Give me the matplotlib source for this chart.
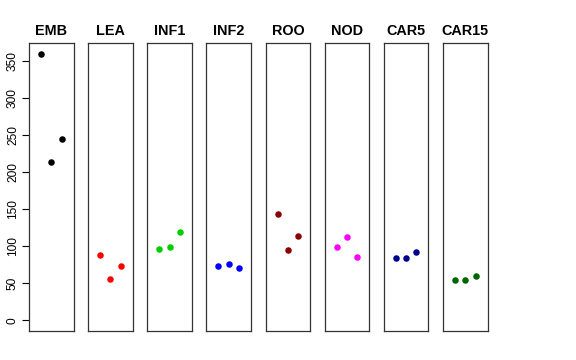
import matplotlib
matplotlib.use("Agg")
import matplotlib.pyplot as plt

plt.rcParams['font.family'] = ['Liberation Sans', 'DejaVu Sans']

# tissue panels and their three replicate values
tissues = ["EMB", "LEA", "INF1", "INF2", "ROO", "NOD", "CAR5", "CAR15"]
colors = ["black", "red", "#00CD00", "blue", "#8B0000", "magenta", "#00008B", "#006400"]
reps = [1, 2, 3]
vals_EMB = [360, 213.5, 245]
vals_LEA = [88.3, 56, 73.4]
vals_INF1 = [96.4, 98.6, 119.8]
vals_INF2 = [73, 76.1, 70.7]
vals_ROO = [144.1, 94.6, 114.4]
vals_NOD = [98.6, 112.2, 85.1]
vals_CAR5 = [84.2, 84.2, 92.3]
vals_CAR15 = [54.1, 55, 59.9]
values = [vals_EMB, vals_LEA, vals_INF1, vals_INF2, vals_ROO, vals_NOD, vals_CAR5, vals_CAR15]
yticks = [0, 50, 100, 150, 200, 250, 300, 350]

fig = plt.figure(figsize=(5.76, 3.6), dpi=100)

# panel geometry in pixels (left edge, width), matching the reference layout
W, H = 576.0, 360.0
left0, pitch, pw = 29.0, 59.15, 44.5
top, bottom = 43.0, 331.0

ymin, ymax = 0, 360
yr = ymax - ymin
for i, (name, col, v) in enumerate(zip(tissues, colors, values)):
    x0 = left0 + i * pitch
    ax = fig.add_axes([x0 / W, 1 - bottom / H, pw / W, (bottom - top) / H])
    ax.scatter(reps, v, color=col, s=22, zorder=3, linewidths=0)
    ax.set_xlim(0 - 0.16, 4 + 0.16)
    ax.set_ylim(ymin - 0.04 * yr, ymax + 0.04 * yr)
    ax.set_xticks([])
    ax.set_title(name, fontsize=10.4, fontweight="bold", pad=6)
    for sp in ax.spines.values():
        sp.set_linewidth(0.9)
        sp.set_color("#333333")
    if i == 0:
        ax.set_yticks(yticks)
        ax.set_yticklabels([str(t) for t in yticks], rotation=90, va="center", fontsize=8.6)
        ax.tick_params(axis="y", length=5.2, width=0.8, pad=2)
    else:
        ax.set_yticks([])

fig.savefig("out.png", dpi=100)
